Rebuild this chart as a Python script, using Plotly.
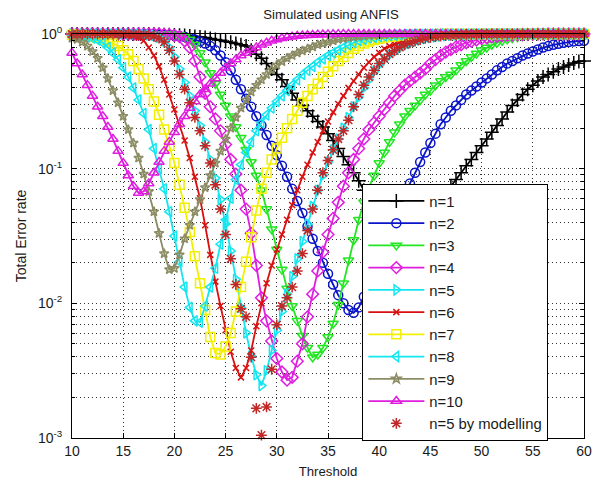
import plotly.graph_objects as go

threshold = [
    10, 10.5, 11, 11.5, 12, 12.5, 13, 13.5, 14, 14.5,
    15, 15.5, 16, 16.5, 17, 17.5, 18, 18.5, 19, 19.5,
    20, 20.5, 21, 21.5, 22, 22.5, 23, 23.5, 24, 24.5,
    25, 25.5, 26, 26.5, 27, 27.5, 28, 28.5, 29, 29.5,
    30, 30.5, 31, 31.5, 32, 32.5, 33, 33.5, 34, 34.5,
    35, 35.5, 36, 36.5, 37, 37.5, 38, 38.5, 39, 39.5,
    40, 40.5, 41, 41.5, 42, 42.5, 43, 43.5, 44, 44.5,
    45, 45.5, 46, 46.5, 47, 47.5, 48, 48.5, 49, 49.5,
    50, 50.5, 51, 51.5, 52, 52.5, 53, 53.5, 54, 54.5,
    55, 55.5, 56, 56.5, 57, 57.5, 58, 58.5, 59, 59.5,
    60]

err_n1 = [
    1, 1, 1, 1, 1, 1, 1, 1, 1, 1,
    1, 1, 1, 1, 1, 1, 0.995, 0.993, 0.989, 0.986,
    0.982, 0.977, 0.973, 0.966, 0.959, 0.951, 0.940, 0.927, 0.912, 0.897,
    0.881, 0.867, 0.851, 0.832, 0.813, 0.759, 0.708, 0.661, 0.603, 0.550,
    0.501, 0.457, 0.407, 0.363, 0.324, 0.295, 0.269, 0.245, 0.224, 0.204,
    0.182, 0.162, 0.141, 0.123, 0.107, 0.0933, 0.0813, 0.0692, 0.0589, 0.0501,
    0.0427, 0.0363, 0.0316, 0.0275, 0.0251, 0.0240, 0.0251, 0.0282, 0.0324, 0.0380,
    0.0437, 0.0513, 0.0589, 0.0661, 0.0741, 0.0832, 0.0933, 0.105, 0.117, 0.132,
    0.148, 0.166, 0.186, 0.209, 0.234, 0.263, 0.295, 0.324, 0.355, 0.389,
    0.417, 0.447, 0.479, 0.501, 0.525, 0.550, 0.569, 0.589, 0.610, 0.624,
    0.631]

err_n2 = [
    1, 1, 1, 1, 1, 1, 1, 1, 1, 1,
    1, 1, 1, 1, 1, 1, 0.995, 0.993, 0.989, 0.984,
    0.977, 0.966, 0.955, 0.933, 0.912, 0.881, 0.851, 0.813, 0.759, 0.692,
    0.617, 0.537, 0.457, 0.389, 0.331, 0.288, 0.245, 0.209, 0.178, 0.148,
    0.126, 0.105, 0.0871, 0.0708, 0.0575, 0.0468, 0.0372, 0.0302, 0.0245, 0.0200,
    0.0166, 0.0138, 0.0115, 0.0100, 0.00891, 0.00851, 0.00933, 0.0112, 0.0145, 0.0195,
    0.0251, 0.0324, 0.0398, 0.0479, 0.0575, 0.0676, 0.0776, 0.0933, 0.112, 0.132,
    0.155, 0.182, 0.214, 0.240, 0.269, 0.295, 0.324, 0.355, 0.380, 0.407,
    0.437, 0.468, 0.501, 0.537, 0.569, 0.603, 0.631, 0.661, 0.692, 0.716,
    0.741, 0.767, 0.794, 0.813, 0.832, 0.847, 0.861, 0.871, 0.881, 0.887,
    0.891]

err_n3 = [
    1, 1, 1, 1, 1, 1, 1, 1, 1, 1,
    1, 1, 1, 1, 1, 1, 1, 1, 1, 1,
    0.991, 0.982, 0.955, 0.912, 0.832, 0.724, 0.617, 0.513, 0.427, 0.355,
    0.295, 0.245, 0.204, 0.170, 0.138, 0.112, 0.0891, 0.0692, 0.0501, 0.0355,
    0.0251, 0.0178, 0.0129, 0.00955, 0.00741, 0.00575, 0.00468, 0.00398, 0.00417, 0.00468,
    0.00562, 0.00708, 0.00977, 0.0141, 0.0209, 0.0295, 0.0417, 0.0562, 0.0724, 0.0891,
    0.110, 0.132, 0.158, 0.186, 0.214, 0.245, 0.269, 0.295, 0.324, 0.355,
    0.380, 0.417, 0.447, 0.479, 0.501, 0.537, 0.589, 0.631, 0.676, 0.716,
    0.759, 0.794, 0.832, 0.861, 0.891, 0.912, 0.933, 0.948, 0.962, 0.973,
    0.982, 0.989, 0.993, 0.995, 0.998, 1, 1, 1, 1, 1,
    1]

err_n4 = [
    1, 1, 1, 1, 1, 1, 1, 1, 1, 1,
    1, 1, 1, 1, 1, 1, 1, 1, 0.993, 0.989,
    0.977, 0.955, 0.891, 0.794, 0.631, 0.479, 0.363, 0.288, 0.234, 0.191,
    0.151, 0.117, 0.0912, 0.0692, 0.0501, 0.0331, 0.0191, 0.0110, 0.00741, 0.00525,
    0.00389, 0.00309, 0.00269, 0.00282, 0.00372, 0.00501, 0.00794, 0.0117, 0.0174, 0.0240,
    0.0324, 0.0427, 0.0562, 0.0741, 0.0933, 0.117, 0.141, 0.166, 0.195, 0.219,
    0.245, 0.275, 0.309, 0.347, 0.380, 0.417, 0.447, 0.479, 0.513, 0.550,
    0.603, 0.646, 0.692, 0.733, 0.767, 0.803, 0.832, 0.861, 0.881, 0.902,
    0.923, 0.938, 0.951, 0.962, 0.971, 0.977, 0.982, 0.986, 0.991, 0.993,
    0.995, 0.997, 0.998, 1, 1, 1, 1, 1, 1, 1,
    1]

err_n5 = [
    1, 1, 1, 1, 1, 1, 1, 1, 1, 1,
    1, 1, 0.995, 0.993, 0.989, 0.984, 0.977, 0.944, 0.891, 0.794,
    0.676, 0.550, 0.437, 0.347, 0.269, 0.209, 0.158, 0.117, 0.0851, 0.0589,
    0.0389, 0.0245, 0.0151, 0.00933, 0.00603, 0.00407, 0.00295, 0.00245, 0.00316, 0.00447,
    0.00631, 0.00871, 0.0117, 0.0158, 0.0214, 0.0288, 0.0389, 0.0525, 0.0692, 0.0891,
    0.112, 0.138, 0.166, 0.200, 0.240, 0.288, 0.339, 0.398, 0.457, 0.525,
    0.589, 0.646, 0.700, 0.741, 0.785, 0.822, 0.851, 0.881, 0.902, 0.923,
    0.938, 0.951, 0.962, 0.971, 0.977, 0.982, 0.986, 0.990, 0.993, 0.995,
    0.997, 0.998, 1, 1, 1, 1, 1, 1, 1, 1,
    1, 1, 1, 1, 1, 1, 1, 1, 1, 1,
    1]

err_n6 = [
    1, 1, 1, 1, 1, 1, 1, 1, 1, 1,
    0.989, 0.977, 0.966, 0.944, 0.891, 0.794, 0.692, 0.575, 0.457, 0.355,
    0.275, 0.214, 0.162, 0.120, 0.0871, 0.0603, 0.0380, 0.0229, 0.0145, 0.00955,
    0.00631, 0.00437, 0.00331, 0.00282, 0.00331, 0.00447, 0.00676, 0.0100, 0.0141, 0.0191,
    0.0251, 0.0324, 0.0417, 0.0537, 0.0692, 0.0871, 0.107, 0.132, 0.158, 0.191,
    0.224, 0.263, 0.302, 0.347, 0.398, 0.447, 0.501, 0.562, 0.617, 0.676,
    0.724, 0.776, 0.813, 0.841, 0.871, 0.891, 0.912, 0.929, 0.944, 0.955,
    0.966, 0.973, 0.977, 0.982, 0.986, 0.990, 0.993, 0.994, 0.995, 0.997,
    0.998, 1, 1, 1, 1, 1, 1, 1, 1, 1,
    1, 1, 1, 1, 1, 1, 1, 1, 1, 1,
    1]

err_n7 = [
    0.989, 0.984, 0.977, 0.968, 0.955, 0.933, 0.912, 0.881, 0.851, 0.813,
    0.759, 0.708, 0.631, 0.550, 0.468, 0.389, 0.316, 0.251, 0.195, 0.148,
    0.110, 0.0759, 0.0513, 0.0339, 0.0224, 0.0141, 0.00891, 0.00562, 0.00427, 0.00417,
    0.00479, 0.00603, 0.00871, 0.0132, 0.0204, 0.0309, 0.0490, 0.0708, 0.0933, 0.117,
    0.141, 0.170, 0.200, 0.234, 0.269, 0.309, 0.347, 0.389, 0.427, 0.479,
    0.525, 0.575, 0.631, 0.676, 0.724, 0.776, 0.813, 0.851, 0.881, 0.902,
    0.923, 0.940, 0.955, 0.964, 0.973, 0.979, 0.984, 0.989, 0.991, 0.993,
    0.995, 0.997, 0.998, 1, 1, 1, 1, 1, 1, 1,
    1, 1, 1, 1, 1, 1, 1, 1, 1, 1,
    1, 1, 1, 1, 1, 1, 1, 1, 1, 1,
    1]

err_n8 = [
    0.977, 0.970, 0.962, 0.951, 0.933, 0.902, 0.861, 0.794, 0.724, 0.646,
    0.562, 0.479, 0.398, 0.324, 0.257, 0.195, 0.141, 0.100, 0.0708, 0.0479,
    0.0316, 0.0204, 0.0132, 0.00933, 0.00741, 0.00724, 0.00955, 0.0132, 0.0182, 0.0275,
    0.0417, 0.0603, 0.0832, 0.107, 0.132, 0.158, 0.191, 0.219, 0.251, 0.282,
    0.316, 0.347, 0.380, 0.417, 0.457, 0.501, 0.537, 0.575, 0.617, 0.653,
    0.692, 0.724, 0.759, 0.794, 0.832, 0.861, 0.891, 0.912, 0.933, 0.944,
    0.955, 0.966, 0.973, 0.979, 0.984, 0.989, 0.991, 0.993, 0.995, 0.997,
    0.998, 1, 1, 1, 1, 1, 1, 1, 1, 1,
    1, 1, 1, 1, 1, 1, 1, 1, 1, 1,
    1, 1, 1, 1, 1, 1, 1, 1, 1, 1,
    1]

err_n9 = [
    0.933, 0.912, 0.871, 0.813, 0.741, 0.661, 0.562, 0.468, 0.380, 0.309,
    0.245, 0.195, 0.155, 0.120, 0.0912, 0.0676, 0.0479, 0.0331, 0.0234, 0.0178,
    0.0182, 0.0229, 0.0302, 0.0380, 0.0479, 0.0589, 0.0724, 0.0891, 0.110, 0.135,
    0.166, 0.200, 0.240, 0.282, 0.324, 0.372, 0.417, 0.457, 0.501, 0.543,
    0.589, 0.624, 0.661, 0.692, 0.724, 0.750, 0.776, 0.803, 0.832, 0.851,
    0.871, 0.891, 0.912, 0.925, 0.938, 0.948, 0.959, 0.966, 0.973, 0.979,
    0.984, 0.989, 0.991, 0.993, 0.995, 0.997, 0.998, 1, 1, 1,
    1, 1, 1, 1, 1, 1, 1, 1, 1, 1,
    1, 1, 1, 1, 1, 1, 1, 1, 1, 1,
    1, 1, 1, 1, 1, 1, 1, 1, 1, 1,
    1]

err_n10 = [
    0.724, 0.603, 0.501, 0.417, 0.347, 0.288, 0.245, 0.204, 0.166, 0.135,
    0.110, 0.0891, 0.0741, 0.0661, 0.0676, 0.0776, 0.0933, 0.112, 0.135, 0.158,
    0.186, 0.214, 0.245, 0.282, 0.316, 0.355, 0.389, 0.427, 0.468, 0.513,
    0.562, 0.603, 0.646, 0.692, 0.724, 0.759, 0.794, 0.832, 0.861, 0.891,
    0.912, 0.929, 0.944, 0.955, 0.966, 0.973, 0.979, 0.984, 0.989, 0.991,
    0.993, 0.995, 0.998, 1, 1, 1, 1, 1, 1, 1,
    1, 1, 1, 1, 1, 1, 1, 1, 1, 1,
    1, 1, 1, 1, 1, 1, 1, 1, 1, 1,
    1, 1, 1, 1, 1, 1, 1, 1, 1, 1,
    1, 1, 1, 1, 1, 1, 1, 1, 1, 1,
    1]

err_n5_model = [
    1, 1, 1, 1, 1, 1, 1, 1, 1, 1,
    1, 1, 0.995, 0.991, 0.986, 0.979, 0.966, 0.933, 0.871, 0.759,
    0.631, 0.501, 0.389, 0.309, 0.240, 0.191, 0.148, 0.110, 0.0759, 0.0501,
    0.0324, 0.0214, 0.0138, 0.00912, 0.00794, 0.00398, 0.00166, 0.00105, 0.0017, 0.00324,
    0.00692, 0.00955, 0.0110, 0.0132, 0.0174, 0.0234, 0.0347, 0.0501, 0.0692, 0.0933,
    0.115, 0.138, 0.166, 0.191, 0.229, 0.288, 0.355, 0.417, 0.479, 0.537,
    0.603, 0.653, 0.708, 0.750, 0.794, 0.832, 0.859, 0.885, 0.908, 0.927,
    0.942, 0.955, 0.964, 0.973, 0.979, 0.984, 0.989, 0.992, 0.994, 0.996,
    0.997, 0.998, 1, 1, 1, 1, 1, 1, 1, 1,
    1, 1, 1, 1, 1, 1, 1, 1, 1, 1,
    1]

names = ["n=1", "n=2", "n=3", "n=4", "n=5", "n=6", "n=7", "n=8", "n=9", "n=10",
         "n=5 by modelling"]
values = [err_n1, err_n2, err_n3, err_n4, err_n5, err_n6, err_n7, err_n8,
          err_n9, err_n10, err_n5_model]
colors = ["#000000", "#0a14c8", "#22e622", "#e01ee0", "#14e6f0", "#d81010",
          "#f2f000", "#14e6f0", "#8c8c64", "#e01ee0", "#c02828"]
symbols = ["cross-thin-open", "circle-open", "triangle-down-open", "diamond-open",
           "triangle-right-open", "x-thin-open", "square-open", "triangle-left-open",
           "star-open", "triangle-up-open", "asterisk-open"]
sizes = [10, 9, 9, 9, 9, 6, 9, 9, 7, 9, 9]

for v in values:
    assert len(v) == len(threshold), len(v)

fig = go.Figure()
for name, vals, col, sym, sz in zip(names, values, colors, symbols, sizes):
    is_model = name.endswith("modelling")
    fig.add_trace(go.Scatter(
        x=threshold, y=vals, name=name, legendgroup=name,
        mode="markers" if is_model else "lines+markers",
        line=dict(color=col, width=1.8),
        marker=dict(symbol=sym, size=sz, color=col, line=dict(color=col, width=1.5)),
        cliponaxis=False,
    ))

minor_vals = [2e-3, 3e-3, 4e-3, 5e-3, 6e-3, 7e-3, 8e-3, 9e-3,
              2e-2, 3e-2, 4e-2, 5e-2, 6e-2, 7e-2, 8e-2, 9e-2,
              2e-1, 3e-1, 4e-1, 5e-1, 6e-1, 7e-1, 8e-1, 9e-1]

grid_dash = "1px,3px"
grid_col = "#333333"

# The page body keeps its default 8px margin, so the figure is 596x480 and
# sits at (8, 8) inside the 604x488 window.
fig.update_layout(
    width=596, height=480,
    margin=dict(l=62, r=12, t=26, b=44),
    paper_bgcolor="white", plot_bgcolor="white",
    font=dict(family="Liberation Sans, Arial, sans-serif", size=14, color="#1a1a1a"),
    title=dict(text="Simulated using ANFIS", x=(331-8)/596, xanchor="center",
               y=1 - 6/480, yanchor="middle", font=dict(size=13.2)),
    showlegend=True,
    legend=dict(x=(366-70)/522, y=(444-186)/410, xanchor="left", yanchor="top",
                bgcolor="white", bordercolor="black", borderwidth=1,
                font=dict(size=14.8), tracegroupgap=0, itemwidth=56),
    xaxis=dict(range=[10, 60], tickvals=[10, 15, 20, 25, 30, 35, 40, 45, 50, 55, 60],
               ticks="inside", ticklen=5, tickcolor="black",
               showline=True, linecolor="black", linewidth=1, mirror="ticks",
               showgrid=True, gridcolor=grid_col, griddash=grid_dash, gridwidth=1,
               zeroline=False, ticklabelstandoff=0, ticklabeloverflow="allow",
               tickfont=dict(size=14),
               title=dict(text="Threshold", standoff=8, font=dict(size=13.2))),
    yaxis=dict(type="log", range=[-3, 0], tickvals=[1e-3, 1e-2, 1e-1, 1],
               ticktext=["10<sup>-3</sup>", "10<sup>-2</sup>", "10<sup>-1</sup>", "10<sup>0</sup>"],
               ticks="inside", ticklen=5, tickcolor="black",
               showline=True, linecolor="black", linewidth=1, mirror="ticks",
               showgrid=True, gridcolor=grid_col, griddash=grid_dash, gridwidth=1,
               zeroline=False, ticklabelstandoff=6, ticklabeloverflow="allow",
               tickfont=dict(size=14),
               minor=dict(tickvals=minor_vals, ticks="inside", ticklen=3,
                          tickcolor="black", showgrid=True, gridcolor=grid_col,
                          griddash=grid_dash, gridwidth=1),
               title=dict(text="Total Error rate", standoff=8, font=dict(size=14))),
)

fig.write_html("out.html", config={"displayModeBar": False})
